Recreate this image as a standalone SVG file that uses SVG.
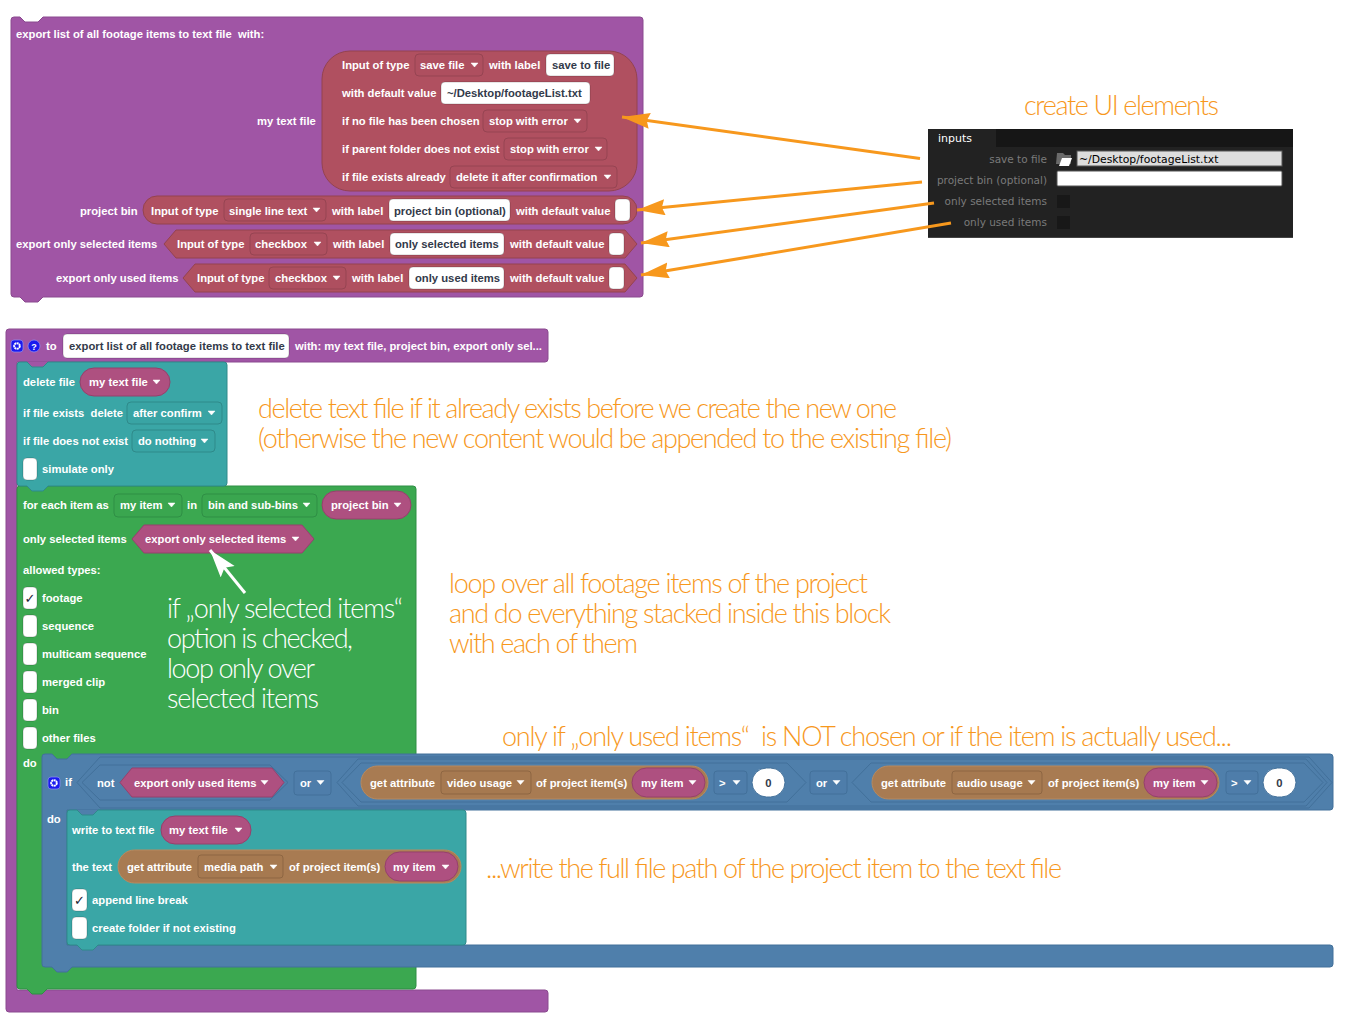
<svg xmlns="http://www.w3.org/2000/svg" xmlns:xlink="http://www.w3.org/1999/xlink" width="1359" height="1025" viewBox="0 0 1359 1025">
<style>
text{font-family:"Liberation Sans",Arial,sans-serif}
.t{font-size:11.25px;font-weight:700;fill:#fff;dominant-baseline:central}
.k{font-size:11.25px;font-weight:700;fill:#333a4a;dominant-baseline:central}
.f{fill:#fff;stroke:#00000033}
.dr{fill:#ae4f5f;stroke:#964452}
.dt{fill:#39a4a4;stroke:#2f8a8a}
.dg{fill:#3aa64f;stroke:#2f8f45}
.db{fill:#4e7daa;stroke:#42709a}
.dn{fill:#a67950;stroke:#8d6642}
.red{fill:#b05060;stroke:#94434f}
.pink{fill:#ae5080;stroke:#96406c}
.brown{fill:#a87b52;stroke:#b88a5e;stroke-width:1}
.hexb{fill:#4f7fab;stroke:#42709a}
.o{font-family:"Lato","Open Sans",sans-serif;font-weight:300;font-size:27px;fill:#f7981d}
.w{font-family:"Lato","Open Sans",sans-serif;font-weight:300;font-size:27px;fill:#fff}
.p{font-family:"DejaVu Sans",sans-serif;font-size:10.500px;fill:#7a7a7a;text-anchor:end}
.arr{stroke:#f7981d;stroke-width:3;fill:none}
</style>
<defs>
<polygon id="a" points="0,0 7,0 3.500,4" fill="#fff" stroke="#fff" stroke-width="0.5" stroke-linejoin="round"/>
<marker id="oh" markerUnits="userSpaceOnUse" markerWidth="30" markerHeight="18" refX="28" refY="8" orient="auto"><path d="M0,0 L28,8 L0,16 L3,8Z" fill="#f7981d"/></marker>
<marker id="wh" markerUnits="userSpaceOnUse" markerWidth="30" markerHeight="20" refX="28" refY="9" orient="auto"><path d="M0,0 L28,9 L0,18 L5,9Z" fill="#fff"/></marker>
<g id="gear"><rect x="0" y="0" width="12" height="12" rx="3" fill="#1a1aee" stroke="#8f8ff5" stroke-width="0.7"/><circle cx="6" cy="6" r="2.800" fill="none" stroke="#fff" stroke-width="2" stroke-dasharray="2 0.500"/></g>
</defs>
<rect width="1359" height="1025" fill="#fff"/>

<g id="export-block">
<path d="M11 20q0-3 3-3h6l5 5h13l5-5H640q3 0 3 3V294q0 3-3 3H43l-5 5H25l-5-5H14q-3 0-3-3Z" fill="#a055a5" stroke="#8a4a8f"/>
<text class="t" x="16" y="34" xml:space="preserve">export list of all footage items to text file  with:</text>
<text class="t" x="257" y="121">my text file</text>
<rect class="red" x="322" y="51" width="315" height="140" rx="28"/>
<text class="t" x="342" y="65">Input of type</text><rect class="dr" x="415" y="54" width="68" height="22" rx="4"/><text class="t" x="420" y="65">save file</text><use xlink:href="#a" x="471" y="63"/>
<text class="t" x="489" y="65">with label</text><rect class="f" x="546" y="54" width="68" height="22" rx="4"/><text class="k" x="552" y="65">save to file</text>
<text class="t" x="342" y="93">with default value</text><rect class="f" x="441" y="82" width="149" height="22" rx="4"/><text class="k" x="447" y="93">~/Desktop/footageList.txt</text>
<text class="t" x="342" y="121">if no file has been chosen</text><rect class="dr" x="483" y="110" width="104" height="22" rx="4"/><text class="t" x="489" y="121">stop with error</text><use xlink:href="#a" x="574" y="119"/>
<text class="t" x="342" y="149">if parent folder does not exist</text><rect class="dr" x="504" y="138" width="103" height="22" rx="4"/><text class="t" x="510" y="149">stop with error</text><use xlink:href="#a" x="595" y="147"/>
<text class="t" x="342" y="177">if file exists already</text><rect class="dr" x="450" y="166" width="167" height="22" rx="4"/><text class="t" x="456" y="177">delete it after confirmation</text><use xlink:href="#a" x="604" y="175"/>
<text class="t" x="80" y="211">project bin</text>
<rect class="red" x="143" y="196" width="494" height="28" rx="14"/>
<text class="t" x="151" y="211">Input of type</text><rect class="dr" x="224" y="199" width="102" height="22" rx="4"/><text class="t" x="229" y="211">single line text</text><use xlink:href="#a" x="313" y="208"/>
<text class="t" x="332" y="211">with label</text><rect class="f" x="389" y="199" width="121" height="22" rx="4"/><text class="k" x="394" y="211">project bin (optional)</text>
<text class="t" x="516" y="211">with default value</text><rect class="f" x="615" y="199" width="15" height="22" rx="4"/>
<text class="t" x="16" y="244">export only selected items</text>
<path class="red" d="M164 244L176 230H625L637 244L625 258H176Z"/>
<text class="t" x="177" y="244">Input of type</text><rect class="dr" x="250" y="233" width="77" height="22" rx="4"/><text class="t" x="255" y="244">checkbox</text><use xlink:href="#a" x="314" y="242"/>
<text class="t" x="333" y="244">with label</text><rect class="f" x="390" y="233" width="114" height="22" rx="4"/><text class="k" x="395" y="244">only selected items</text>
<text class="t" x="510" y="244">with default value</text><rect class="f" x="609" y="233" width="15" height="22" rx="4"/>
<text class="t" x="56" y="278">export only used items</text>
<path class="red" d="M183 278L195 264H625L637 278L625 292H195Z"/>
<text class="t" x="197" y="278">Input of type</text><rect class="dr" x="269" y="267" width="77" height="22" rx="4"/><text class="t" x="275" y="278">checkbox</text><use xlink:href="#a" x="333" y="276"/>
<text class="t" x="352" y="278">with label</text><rect class="f" x="409" y="267" width="95" height="22" rx="4"/><text class="k" x="415" y="278">only used items</text>
<text class="t" x="510" y="278">with default value</text><rect class="f" x="609" y="267" width="15" height="22" rx="4"/>
</g>

<g id="ui-panel">
<rect x="928" y="129" width="365" height="109" fill="#222"/>
<rect x="996" y="129" width="297" height="18" fill="#161616"/>
<rect x="928" y="237" width="365" height="1" fill="#444"/>
<text x="938" y="142" font-size="11" fill="#fff" style="font-family:'DejaVu Sans',sans-serif">inputs</text>
<text class="p" x="1047" y="163">save to file</text>
<path d="M1057 153h6l2 2h6v9h-15Z" fill="#6a6a6a"/><path d="M1059 166l3-8h10l-3 8Z" fill="#fff"/>
<rect x="1077" y="151" width="205" height="15" fill="#ddd" stroke="#555"/>
<text x="1079" y="163" font-size="10.800" fill="#000" style="font-family:'DejaVu Sans',sans-serif">~/Desktop/footageList.txt</text>
<text class="p" x="1047" y="184">project bin (optional)</text>
<rect x="1057" y="171" width="225" height="15" rx="1" fill="#fff" stroke="#555"/>
<text class="p" x="1047" y="205">only selected items</text>
<rect x="1057" y="195" width="13" height="13" fill="#181818"/>
<text class="p" x="1047" y="226">only used items</text>
<rect x="1057" y="216" width="13" height="13" fill="#181818"/>
</g>

<g id="to-block">
<path d="M9 329H545q3 0 3 3V359q0 3-3 3H17V990H545q3 0 3 3V1009q0 3-3 3H9q-3 0-3-3V332q0-3 3-3Z" fill="#a055a5" stroke="#8a4a8f"/>
<polygon points="27,362 32,367 43,367 48,362" fill="#a055a5"/>
<use xlink:href="#gear" x="11" y="340"/>
<circle cx="34" cy="346" r="6" fill="#1a1aee" stroke="#8f8ff5" stroke-width="0.7"/><text x="34" y="349.500" font-size="9" font-weight="700" fill="#fff" text-anchor="middle">?</text>
<text class="t" x="46" y="346">to</text>
<rect class="f" x="63" y="334" width="226" height="24" rx="4"/><text class="k" x="69" y="346">export list of all footage items to text file</text>
<text class="t" x="295" y="346">with: my text file, project bin, export only sel...</text>
</g>

<g id="for-each-block">
<path d="M20 486H413q3 0 3 3V986q0 3-3 3H47l-5 5H32l-5-5H20q-3 0-3-3V489q0-3 3-3Z" fill="#3ba850" stroke="#2f8f45"/>
<text class="t" x="23" y="505">for each item as</text><rect class="dg" x="114" y="494" width="68" height="23" rx="4"/><text class="t" x="120" y="505">my item</text><use xlink:href="#a" x="168" y="503"/>
<text class="t" x="187" y="505">in</text><rect class="dg" x="202" y="494" width="115" height="23" rx="4"/><text class="t" x="208" y="505">bin and sub-bins</text><use xlink:href="#a" x="303" y="503"/>
<rect class="pink" x="322" y="491" width="89" height="28" rx="14"/><text class="t" x="331" y="505">project bin</text><use xlink:href="#a" x="394" y="503"/>
<text class="t" x="23" y="539">only selected items</text>
<path class="pink" d="M132 539L144 525H302L314 539L302 553H144Z"/><text class="t" x="145" y="539">export only selected items</text><use xlink:href="#a" x="292" y="537"/>
<text class="t" x="23" y="570">allowed types:</text>
<rect class="f" x="23" y="587" width="14" height="22" rx="4"/><text x="30" y="603" font-size="13" fill="#223" text-anchor="middle" style="font-family:'DejaVu Sans',sans-serif">✓</text><text class="t" x="42" y="598">footage</text>
<rect class="f" x="23" y="615" width="14" height="22" rx="4"/><text class="t" x="42" y="626">sequence</text>
<rect class="f" x="23" y="643" width="14" height="22" rx="4"/><text class="t" x="42" y="654">multicam sequence</text>
<rect class="f" x="23" y="671" width="14" height="22" rx="4"/><text class="t" x="42" y="682">merged clip</text>
<rect class="f" x="23" y="699" width="14" height="22" rx="4"/><text class="t" x="42" y="710">bin</text>
<rect class="f" x="23" y="727" width="14" height="22" rx="4"/><text class="t" x="42" y="738">other files</text>
<text class="t" x="23" y="763">do</text>
</g>

<g id="delete-block">
<path d="M20 362h7l5 5h11l5-5H224q3 0 3 3V483q0 3-3 3H48l-5 5H32l-5-5H20q-3 0-3-3V365q0-3 3-3Z" fill="#3aa6a6" stroke="#2f8a8a"/>
<text class="t" x="23" y="382">delete file</text>
<rect class="pink" x="80" y="368" width="90" height="28" rx="14"/><text class="t" x="89" y="382">my text file</text><use xlink:href="#a" x="153" y="380"/>
<text class="t" x="23" y="413" xml:space="preserve">if file exists  delete</text><rect class="dt" x="127" y="402" width="95" height="22" rx="4"/><text class="t" x="133" y="413">after confirm</text><use xlink:href="#a" x="208" y="411"/>
<text class="t" x="23" y="441">if file does not exist</text><rect class="dt" x="132" y="430" width="83" height="22" rx="4"/><text class="t" x="138" y="441">do nothing</text><use xlink:href="#a" x="201" y="439"/>
<rect class="f" x="23" y="458" width="14" height="22" rx="4"/><text class="t" x="42" y="469">simulate only</text>
</g>

<g id="if-block">
<path d="M45 754h7l5 5h10l5-5H1330q3 0 3 3V807q0 3-3 3H67V945H1330q3 0 3 3V964q0 3-3 3H72l-5 5H57l-5-5H45q-3 0-3-3V757q0-3 3-3Z" fill="#4f7fab" stroke="#42709a"/>
<polygon points="77,810 82,815 93,815 98,810" fill="#4f7fab"/>
<use xlink:href="#gear" x="48" y="777"/>
<text class="t" x="65" y="782">if</text>
<path class="hexb" d="M77 782.500L100 757H1309L1332 782.500L1309 808H100Z"/>
<path class="hexb" d="M82 782.500L100 765H270L288 782.500L270 800H100Z"/>
<text class="t" x="97" y="782.500">not</text>
<path class="pink" d="M120 782.500L132 768H272L284 782.500L272 797H132Z"/><text class="t" x="134" y="782.500">export only used items</text><use xlink:href="#a" x="261" y="780.500"/>
<rect class="db" x="294" y="771" width="37" height="24" rx="3"/><text class="t" x="300" y="782.500">or</text><use xlink:href="#a" x="317" y="780.500"/>
<path class="hexb" d="M337 782.500L358 759H1306L1327 782.500L1306 806H358Z"/>
<path class="hexb" d="M342 782.500L361 763H787L806 782.500L787 802H361Z"/>
<rect class="brown" x="361" y="766" width="347" height="33" rx="16.500"/>
<text class="t" x="370" y="782.500">get attribute</text><rect class="dn" x="441" y="771" width="90" height="23" rx="3"/><text class="t" x="447" y="782.500">video usage</text><use xlink:href="#a" x="517" y="780.500"/>
<text class="t" x="536" y="782.500">of project item(s)</text>
<rect class="pink" x="632" y="768" width="73" height="29" rx="14.500"/><text class="t" x="641" y="782.500">my item</text><use xlink:href="#a" x="689" y="780.500"/>
<rect class="db" x="714" y="771" width="33" height="23" rx="3"/><text class="t" x="719" y="782.500">&gt;</text><use xlink:href="#a" x="733" y="780.500"/>
<rect x="752" y="768" width="33" height="29" rx="14.500" fill="#fff" stroke="#42709a"/><text class="k" x="768.500" y="782.500" text-anchor="middle">0</text>
<rect class="db" x="810" y="771" width="37" height="23" rx="3"/><text class="t" x="816" y="782.500">or</text><use xlink:href="#a" x="833" y="780.500"/>
<path class="hexb" d="M852 782.500L871 763H1304L1323 782.500L1304 802H871Z"/>
<rect class="brown" x="872" y="766" width="347" height="33" rx="16.500"/>
<text class="t" x="881" y="782.500">get attribute</text><rect class="dn" x="952" y="771" width="90" height="23" rx="3"/><text class="t" x="957" y="782.500">audio usage</text><use xlink:href="#a" x="1028" y="780.500"/>
<text class="t" x="1048" y="782.500">of project item(s)</text>
<rect class="pink" x="1144" y="768" width="73" height="29" rx="14.500"/><text class="t" x="1153" y="782.500">my item</text><use xlink:href="#a" x="1201" y="780.500"/>
<rect class="db" x="1226" y="771" width="32" height="23" rx="3"/><text class="t" x="1231" y="782.500">&gt;</text><use xlink:href="#a" x="1244" y="780.500"/>
<rect x="1263" y="768" width="33" height="29" rx="14.500" fill="#fff" stroke="#42709a"/><text class="k" x="1279.500" y="782.500" text-anchor="middle">0</text>
<text class="t" x="47" y="819">do</text>
</g>

<g id="write-block">
<path d="M70 810h7l5 5h11l5-5H463q3 0 3 3V942q0 3-3 3H98l-5 5H82l-5-5H70q-3 0-3-3V813q0-3 3-3Z" fill="#3aa6a6" stroke="#2f8a8a"/>
<text class="t" x="72" y="830">write to text file</text>
<rect class="pink" x="161" y="816" width="90" height="28" rx="14"/><text class="t" x="169" y="830">my text file</text><use xlink:href="#a" x="235" y="828"/>
<text class="t" x="72" y="867">the text</text>
<rect class="brown" x="118" y="850" width="343" height="33" rx="16.500"/>
<text class="t" x="127" y="867">get attribute</text><rect class="dn" x="198" y="855" width="85" height="23" rx="3"/><text class="t" x="204" y="867">media path</text><use xlink:href="#a" x="270" y="865"/>
<text class="t" x="289" y="867">of project item(s)</text>
<rect class="pink" x="385" y="852" width="73" height="29" rx="14.500"/><text class="t" x="393" y="867">my item</text><use xlink:href="#a" x="442" y="865"/>
<rect class="f" x="72" y="889" width="15" height="22" rx="4"/><text x="79.500" y="905" font-size="13" fill="#223" text-anchor="middle" style="font-family:'DejaVu Sans',sans-serif">✓</text><text class="t" x="92" y="900">append line break</text>
<rect class="f" x="72" y="917" width="15" height="22" rx="4"/><text class="t" x="92" y="928">create folder if not existing</text>
</g>

<g id="connectors">
<line class="arr" x1="920" y1="158.500" x2="622" y2="117" marker-end="url(#oh)"/>
<line class="arr" x1="922" y1="182" x2="637" y2="210" marker-end="url(#oh)"/>
<line class="arr" x1="934" y1="203" x2="641" y2="243" marker-end="url(#oh)"/>
<line class="arr" x1="951" y1="223" x2="641" y2="275" marker-end="url(#oh)"/>
<line x1="245" y1="593" x2="210" y2="550" stroke="#fff" stroke-width="3" marker-end="url(#wh)"/>
</g>

<g id="annotations">
<text class="o" x="1024" y="115" textLength="195">create UI elements</text>
<text class="o" x="258" y="418" textLength="639">delete text file if it already exists before we create the new one</text>
<text class="o" x="258" y="448" textLength="694">(otherwise the new content would be appended to the existing file)</text>
<text class="o" x="449" y="593" textLength="419">loop over all footage items of the project</text>
<text class="o" x="449" y="623" textLength="442">and do everything stacked inside this block</text>
<text class="o" x="449" y="653" textLength="189">with each of them</text>
<text class="o" x="502" y="746" textLength="730" xml:space="preserve">only if „only used items“  is NOT chosen or if the item is actually used...</text>
<text class="o" x="486" y="878" textLength="576">...write the full file path of the project item to the text file</text>
<text class="w" x="167" y="618" textLength="236">if „only selected items“</text>
<text class="w" x="167" y="648" textLength="186">option is checked,</text>
<text class="w" x="167" y="678" textLength="148">loop only over</text>
<text class="w" x="167" y="708" textLength="152">selected items</text>
</g>
</svg>
